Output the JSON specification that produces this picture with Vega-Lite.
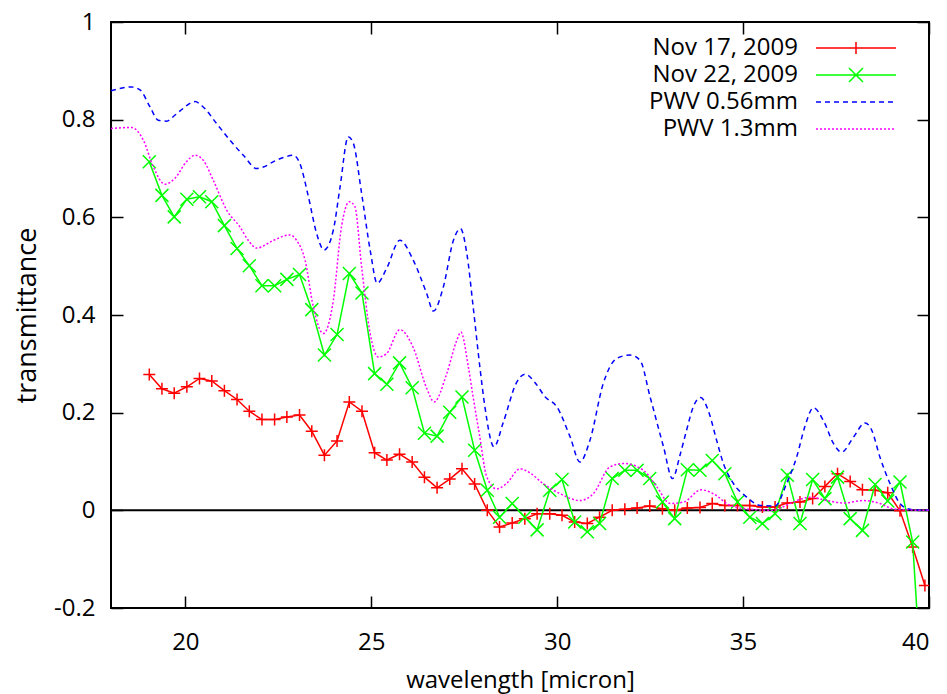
{
  "$schema": "https://vega.github.io/schema/vega-lite/v6.json",
  "width": 818,
  "height": 586,
  "autosize": "none",
  "padding": {"left": 111, "top": 22, "right": 18, "bottom": 86},
  "background": "white",
  "config": {
    "view": {"stroke": "black", "strokeWidth": 2},
    "font": "Open Sans",
    "axis": {
      "grid": false,
      "domain": false,
      "tickColor": "black",
      "tickWidth": 1.5,
      "tickSize": -12,
      "labelFont": "Open Sans",
      "labelFontSize": 24,
      "labelColor": "black",
      "titleFont": "Open Sans",
      "titleFontSize": 24,
      "titleFontWeight": "normal",
      "titleColor": "black"
    }
  },
  "datasets": {
    "meas": [
      {"series": "Nov 17, 2009", "x": 19.03, "y": 0.278},
      {"series": "Nov 17, 2009", "x": 19.37, "y": 0.249},
      {"series": "Nov 17, 2009", "x": 19.70, "y": 0.240},
      {"series": "Nov 17, 2009", "x": 20.04, "y": 0.253},
      {"series": "Nov 17, 2009", "x": 20.38, "y": 0.270},
      {"series": "Nov 17, 2009", "x": 20.71, "y": 0.265},
      {"series": "Nov 17, 2009", "x": 21.05, "y": 0.245},
      {"series": "Nov 17, 2009", "x": 21.39, "y": 0.227},
      {"series": "Nov 17, 2009", "x": 21.72, "y": 0.203},
      {"series": "Nov 17, 2009", "x": 22.06, "y": 0.186},
      {"series": "Nov 17, 2009", "x": 22.40, "y": 0.186},
      {"series": "Nov 17, 2009", "x": 22.73, "y": 0.191},
      {"series": "Nov 17, 2009", "x": 23.07, "y": 0.195},
      {"series": "Nov 17, 2009", "x": 23.40, "y": 0.162},
      {"series": "Nov 17, 2009", "x": 23.74, "y": 0.113},
      {"series": "Nov 17, 2009", "x": 24.08, "y": 0.142},
      {"series": "Nov 17, 2009", "x": 24.41, "y": 0.222},
      {"series": "Nov 17, 2009", "x": 24.75, "y": 0.203},
      {"series": "Nov 17, 2009", "x": 25.09, "y": 0.118},
      {"series": "Nov 17, 2009", "x": 25.42, "y": 0.103},
      {"series": "Nov 17, 2009", "x": 25.76, "y": 0.115},
      {"series": "Nov 17, 2009", "x": 26.10, "y": 0.099},
      {"series": "Nov 17, 2009", "x": 26.43, "y": 0.068},
      {"series": "Nov 17, 2009", "x": 26.77, "y": 0.046},
      {"series": "Nov 17, 2009", "x": 27.11, "y": 0.064},
      {"series": "Nov 17, 2009", "x": 27.44, "y": 0.085},
      {"series": "Nov 17, 2009", "x": 27.78, "y": 0.054},
      {"series": "Nov 17, 2009", "x": 28.12, "y": 0.000},
      {"series": "Nov 17, 2009", "x": 28.45, "y": -0.034},
      {"series": "Nov 17, 2009", "x": 28.79, "y": -0.026},
      {"series": "Nov 17, 2009", "x": 29.13, "y": -0.017},
      {"series": "Nov 17, 2009", "x": 29.46, "y": -0.007},
      {"series": "Nov 17, 2009", "x": 29.80, "y": -0.007},
      {"series": "Nov 17, 2009", "x": 30.13, "y": -0.010},
      {"series": "Nov 17, 2009", "x": 30.47, "y": -0.024},
      {"series": "Nov 17, 2009", "x": 30.81, "y": -0.027},
      {"series": "Nov 17, 2009", "x": 31.14, "y": -0.014},
      {"series": "Nov 17, 2009", "x": 31.48, "y": 0.000},
      {"series": "Nov 17, 2009", "x": 31.82, "y": 0.002},
      {"series": "Nov 17, 2009", "x": 32.15, "y": 0.005},
      {"series": "Nov 17, 2009", "x": 32.49, "y": 0.009},
      {"series": "Nov 17, 2009", "x": 32.83, "y": 0.003},
      {"series": "Nov 17, 2009", "x": 33.16, "y": 0.000},
      {"series": "Nov 17, 2009", "x": 33.50, "y": 0.005},
      {"series": "Nov 17, 2009", "x": 33.84, "y": 0.006},
      {"series": "Nov 17, 2009", "x": 34.17, "y": 0.014},
      {"series": "Nov 17, 2009", "x": 34.51, "y": 0.010},
      {"series": "Nov 17, 2009", "x": 34.85, "y": 0.010},
      {"series": "Nov 17, 2009", "x": 35.18, "y": 0.010},
      {"series": "Nov 17, 2009", "x": 35.52, "y": 0.007},
      {"series": "Nov 17, 2009", "x": 35.86, "y": 0.007},
      {"series": "Nov 17, 2009", "x": 36.19, "y": 0.015},
      {"series": "Nov 17, 2009", "x": 36.53, "y": 0.017},
      {"series": "Nov 17, 2009", "x": 36.87, "y": 0.024},
      {"series": "Nov 17, 2009", "x": 37.20, "y": 0.049},
      {"series": "Nov 17, 2009", "x": 37.54, "y": 0.075},
      {"series": "Nov 17, 2009", "x": 37.88, "y": 0.059},
      {"series": "Nov 17, 2009", "x": 38.21, "y": 0.042},
      {"series": "Nov 17, 2009", "x": 38.55, "y": 0.041},
      {"series": "Nov 17, 2009", "x": 38.89, "y": 0.036},
      {"series": "Nov 17, 2009", "x": 39.22, "y": -0.001},
      {"series": "Nov 17, 2009", "x": 39.56, "y": -0.075},
      {"series": "Nov 17, 2009", "x": 39.89, "y": -0.154},
      {"series": "Nov 22, 2009", "x": 19.03, "y": 0.714},
      {"series": "Nov 22, 2009", "x": 19.37, "y": 0.645},
      {"series": "Nov 22, 2009", "x": 19.70, "y": 0.601},
      {"series": "Nov 22, 2009", "x": 20.04, "y": 0.637},
      {"series": "Nov 22, 2009", "x": 20.38, "y": 0.642},
      {"series": "Nov 22, 2009", "x": 20.71, "y": 0.632},
      {"series": "Nov 22, 2009", "x": 21.05, "y": 0.583},
      {"series": "Nov 22, 2009", "x": 21.39, "y": 0.536},
      {"series": "Nov 22, 2009", "x": 21.72, "y": 0.501},
      {"series": "Nov 22, 2009", "x": 22.06, "y": 0.460},
      {"series": "Nov 22, 2009", "x": 22.40, "y": 0.460},
      {"series": "Nov 22, 2009", "x": 22.73, "y": 0.473},
      {"series": "Nov 22, 2009", "x": 23.07, "y": 0.483},
      {"series": "Nov 22, 2009", "x": 23.40, "y": 0.411},
      {"series": "Nov 22, 2009", "x": 23.74, "y": 0.318},
      {"series": "Nov 22, 2009", "x": 24.08, "y": 0.360},
      {"series": "Nov 22, 2009", "x": 24.41, "y": 0.485},
      {"series": "Nov 22, 2009", "x": 24.75, "y": 0.445},
      {"series": "Nov 22, 2009", "x": 25.09, "y": 0.280},
      {"series": "Nov 22, 2009", "x": 25.42, "y": 0.258},
      {"series": "Nov 22, 2009", "x": 25.76, "y": 0.302},
      {"series": "Nov 22, 2009", "x": 26.10, "y": 0.251},
      {"series": "Nov 22, 2009", "x": 26.43, "y": 0.158},
      {"series": "Nov 22, 2009", "x": 26.77, "y": 0.152},
      {"series": "Nov 22, 2009", "x": 27.11, "y": 0.201},
      {"series": "Nov 22, 2009", "x": 27.44, "y": 0.232},
      {"series": "Nov 22, 2009", "x": 27.78, "y": 0.123},
      {"series": "Nov 22, 2009", "x": 28.12, "y": 0.041},
      {"series": "Nov 22, 2009", "x": 28.45, "y": -0.014},
      {"series": "Nov 22, 2009", "x": 28.79, "y": 0.014},
      {"series": "Nov 22, 2009", "x": 29.13, "y": -0.014},
      {"series": "Nov 22, 2009", "x": 29.46, "y": -0.040},
      {"series": "Nov 22, 2009", "x": 29.80, "y": 0.041},
      {"series": "Nov 22, 2009", "x": 30.13, "y": 0.063},
      {"series": "Nov 22, 2009", "x": 30.47, "y": -0.024},
      {"series": "Nov 22, 2009", "x": 30.81, "y": -0.044},
      {"series": "Nov 22, 2009", "x": 31.14, "y": -0.027},
      {"series": "Nov 22, 2009", "x": 31.48, "y": 0.065},
      {"series": "Nov 22, 2009", "x": 31.82, "y": 0.082},
      {"series": "Nov 22, 2009", "x": 32.15, "y": 0.082},
      {"series": "Nov 22, 2009", "x": 32.49, "y": 0.065},
      {"series": "Nov 22, 2009", "x": 32.83, "y": 0.017},
      {"series": "Nov 22, 2009", "x": 33.16, "y": -0.017},
      {"series": "Nov 22, 2009", "x": 33.50, "y": 0.083},
      {"series": "Nov 22, 2009", "x": 33.84, "y": 0.082},
      {"series": "Nov 22, 2009", "x": 34.17, "y": 0.102},
      {"series": "Nov 22, 2009", "x": 34.51, "y": 0.075},
      {"series": "Nov 22, 2009", "x": 34.85, "y": 0.017},
      {"series": "Nov 22, 2009", "x": 35.18, "y": -0.014},
      {"series": "Nov 22, 2009", "x": 35.52, "y": -0.027},
      {"series": "Nov 22, 2009", "x": 35.86, "y": -0.007},
      {"series": "Nov 22, 2009", "x": 36.19, "y": 0.072},
      {"series": "Nov 22, 2009", "x": 36.53, "y": -0.027},
      {"series": "Nov 22, 2009", "x": 36.87, "y": 0.063},
      {"series": "Nov 22, 2009", "x": 37.20, "y": 0.024},
      {"series": "Nov 22, 2009", "x": 37.54, "y": 0.068},
      {"series": "Nov 22, 2009", "x": 37.88, "y": -0.017},
      {"series": "Nov 22, 2009", "x": 38.21, "y": -0.041},
      {"series": "Nov 22, 2009", "x": 38.55, "y": 0.053},
      {"series": "Nov 22, 2009", "x": 38.89, "y": 0.019},
      {"series": "Nov 22, 2009", "x": 39.22, "y": 0.058},
      {"series": "Nov 22, 2009", "x": 39.56, "y": -0.065},
      {"series": "Nov 22, 2009", "x": 39.89, "y": -0.47}
    ],
    "model": [
      {"series": "PWV 0.56mm", "x": 18.0, "y": 0.859},
      {"series": "PWV 0.56mm", "x": 18.3, "y": 0.865},
      {"series": "PWV 0.56mm", "x": 18.55, "y": 0.867},
      {"series": "PWV 0.56mm", "x": 18.78, "y": 0.861},
      {"series": "PWV 0.56mm", "x": 19.05, "y": 0.826},
      {"series": "PWV 0.56mm", "x": 19.27, "y": 0.799},
      {"series": "PWV 0.56mm", "x": 19.5, "y": 0.797},
      {"series": "PWV 0.56mm", "x": 19.7, "y": 0.808},
      {"series": "PWV 0.56mm", "x": 19.86, "y": 0.818},
      {"series": "PWV 0.56mm", "x": 20.26, "y": 0.837},
      {"series": "PWV 0.56mm", "x": 20.48, "y": 0.826},
      {"series": "PWV 0.56mm", "x": 20.84, "y": 0.792},
      {"series": "PWV 0.56mm", "x": 21.2, "y": 0.758},
      {"series": "PWV 0.56mm", "x": 21.56, "y": 0.727},
      {"series": "PWV 0.56mm", "x": 21.92, "y": 0.700},
      {"series": "PWV 0.56mm", "x": 22.1, "y": 0.703},
      {"series": "PWV 0.56mm", "x": 22.37, "y": 0.714},
      {"series": "PWV 0.56mm", "x": 22.7, "y": 0.724},
      {"series": "PWV 0.56mm", "x": 22.9, "y": 0.727},
      {"series": "PWV 0.56mm", "x": 23.08, "y": 0.710},
      {"series": "PWV 0.56mm", "x": 23.31, "y": 0.642},
      {"series": "PWV 0.56mm", "x": 23.53, "y": 0.567},
      {"series": "PWV 0.56mm", "x": 23.73, "y": 0.533},
      {"series": "PWV 0.56mm", "x": 23.98, "y": 0.574},
      {"series": "PWV 0.56mm", "x": 24.16, "y": 0.662},
      {"series": "PWV 0.56mm", "x": 24.38, "y": 0.765},
      {"series": "PWV 0.56mm", "x": 24.52, "y": 0.751},
      {"series": "PWV 0.56mm", "x": 24.74, "y": 0.649},
      {"series": "PWV 0.56mm", "x": 24.97, "y": 0.533},
      {"series": "PWV 0.56mm", "x": 25.16, "y": 0.465},
      {"series": "PWV 0.56mm", "x": 25.41, "y": 0.495},
      {"series": "PWV 0.56mm", "x": 25.77, "y": 0.553},
      {"series": "PWV 0.56mm", "x": 26.13, "y": 0.512},
      {"series": "PWV 0.56mm", "x": 26.49, "y": 0.444},
      {"series": "PWV 0.56mm", "x": 26.67, "y": 0.408},
      {"series": "PWV 0.56mm", "x": 26.94, "y": 0.458},
      {"series": "PWV 0.56mm", "x": 27.21, "y": 0.553},
      {"series": "PWV 0.56mm", "x": 27.40, "y": 0.577},
      {"series": "PWV 0.56mm", "x": 27.57, "y": 0.526},
      {"series": "PWV 0.56mm", "x": 27.74, "y": 0.417},
      {"series": "PWV 0.56mm", "x": 27.92, "y": 0.294},
      {"series": "PWV 0.56mm", "x": 28.06, "y": 0.210},
      {"series": "PWV 0.56mm", "x": 28.3, "y": 0.130},
      {"series": "PWV 0.56mm", "x": 28.55, "y": 0.180},
      {"series": "PWV 0.56mm", "x": 28.91, "y": 0.262},
      {"series": "PWV 0.56mm", "x": 29.14, "y": 0.279},
      {"series": "PWV 0.56mm", "x": 29.4, "y": 0.262},
      {"series": "PWV 0.56mm", "x": 29.68, "y": 0.232},
      {"series": "PWV 0.56mm", "x": 29.99, "y": 0.212},
      {"series": "PWV 0.56mm", "x": 30.35, "y": 0.150},
      {"series": "PWV 0.56mm", "x": 30.61, "y": 0.099},
      {"series": "PWV 0.56mm", "x": 30.88, "y": 0.143},
      {"series": "PWV 0.56mm", "x": 31.24, "y": 0.260},
      {"series": "PWV 0.56mm", "x": 31.60, "y": 0.311},
      {"series": "PWV 0.56mm", "x": 31.96, "y": 0.318},
      {"series": "PWV 0.56mm", "x": 32.23, "y": 0.307},
      {"series": "PWV 0.56mm", "x": 32.5, "y": 0.232},
      {"series": "PWV 0.56mm", "x": 32.86, "y": 0.130},
      {"series": "PWV 0.56mm", "x": 33.1, "y": 0.065},
      {"series": "PWV 0.56mm", "x": 33.31, "y": 0.115},
      {"series": "PWV 0.56mm", "x": 33.48, "y": 0.164},
      {"series": "PWV 0.56mm", "x": 33.66, "y": 0.212},
      {"series": "PWV 0.56mm", "x": 33.86, "y": 0.231},
      {"series": "PWV 0.56mm", "x": 34.06, "y": 0.205},
      {"series": "PWV 0.56mm", "x": 34.29, "y": 0.143},
      {"series": "PWV 0.56mm", "x": 34.47, "y": 0.096},
      {"series": "PWV 0.56mm", "x": 34.74, "y": 0.055},
      {"series": "PWV 0.56mm", "x": 35.1, "y": 0.027},
      {"series": "PWV 0.56mm", "x": 35.46, "y": 0.010},
      {"series": "PWV 0.56mm", "x": 35.86, "y": 0.009},
      {"series": "PWV 0.56mm", "x": 36.17, "y": 0.055},
      {"series": "PWV 0.56mm", "x": 36.44, "y": 0.109},
      {"series": "PWV 0.56mm", "x": 36.66, "y": 0.171},
      {"series": "PWV 0.56mm", "x": 36.89, "y": 0.210},
      {"series": "PWV 0.56mm", "x": 37.16, "y": 0.184},
      {"series": "PWV 0.56mm", "x": 37.43, "y": 0.137},
      {"series": "PWV 0.56mm", "x": 37.65, "y": 0.119},
      {"series": "PWV 0.56mm", "x": 37.97, "y": 0.150},
      {"series": "PWV 0.56mm", "x": 38.28, "y": 0.179},
      {"series": "PWV 0.56mm", "x": 38.46, "y": 0.164},
      {"series": "PWV 0.56mm", "x": 38.68, "y": 0.109},
      {"series": "PWV 0.56mm", "x": 38.95, "y": 0.055},
      {"series": "PWV 0.56mm", "x": 39.22, "y": 0.014},
      {"series": "PWV 0.56mm", "x": 39.49, "y": 0.002},
      {"series": "PWV 0.56mm", "x": 39.93, "y": 0.0},
      {"series": "PWV 0.56mm", "x": 40.0, "y": 0.0},
      {"series": "PWV 1.3mm", "x": 18.0, "y": 0.782},
      {"series": "PWV 1.3mm", "x": 18.55, "y": 0.784},
      {"series": "PWV 1.3mm", "x": 18.87, "y": 0.758},
      {"series": "PWV 1.3mm", "x": 19.14, "y": 0.703},
      {"series": "PWV 1.3mm", "x": 19.45, "y": 0.668},
      {"series": "PWV 1.3mm", "x": 19.72, "y": 0.680},
      {"series": "PWV 1.3mm", "x": 20.03, "y": 0.714},
      {"series": "PWV 1.3mm", "x": 20.26, "y": 0.727},
      {"series": "PWV 1.3mm", "x": 20.48, "y": 0.717},
      {"series": "PWV 1.3mm", "x": 20.75, "y": 0.676},
      {"series": "PWV 1.3mm", "x": 21.11, "y": 0.615},
      {"series": "PWV 1.3mm", "x": 21.47, "y": 0.580},
      {"series": "PWV 1.3mm", "x": 21.69, "y": 0.553},
      {"series": "PWV 1.3mm", "x": 21.92, "y": 0.537},
      {"series": "PWV 1.3mm", "x": 22.37, "y": 0.553},
      {"series": "PWV 1.3mm", "x": 22.81, "y": 0.564},
      {"series": "PWV 1.3mm", "x": 22.99, "y": 0.553},
      {"series": "PWV 1.3mm", "x": 23.22, "y": 0.512},
      {"series": "PWV 1.3mm", "x": 23.44, "y": 0.417},
      {"series": "PWV 1.3mm", "x": 23.71, "y": 0.362},
      {"series": "PWV 1.3mm", "x": 23.98, "y": 0.430},
      {"series": "PWV 1.3mm", "x": 24.2, "y": 0.581},
      {"series": "PWV 1.3mm", "x": 24.41, "y": 0.632},
      {"series": "PWV 1.3mm", "x": 24.56, "y": 0.622},
      {"series": "PWV 1.3mm", "x": 24.74, "y": 0.499},
      {"series": "PWV 1.3mm", "x": 24.97, "y": 0.362},
      {"series": "PWV 1.3mm", "x": 25.19, "y": 0.314},
      {"series": "PWV 1.3mm", "x": 25.41, "y": 0.321},
      {"series": "PWV 1.3mm", "x": 25.77, "y": 0.370},
      {"series": "PWV 1.3mm", "x": 26.13, "y": 0.333},
      {"series": "PWV 1.3mm", "x": 26.49, "y": 0.250},
      {"series": "PWV 1.3mm", "x": 26.69, "y": 0.222},
      {"series": "PWV 1.3mm", "x": 27.03, "y": 0.280},
      {"series": "PWV 1.3mm", "x": 27.3, "y": 0.348},
      {"series": "PWV 1.3mm", "x": 27.41, "y": 0.365},
      {"series": "PWV 1.3mm", "x": 27.61, "y": 0.294},
      {"series": "PWV 1.3mm", "x": 27.74, "y": 0.232},
      {"series": "PWV 1.3mm", "x": 27.92, "y": 0.150},
      {"series": "PWV 1.3mm", "x": 28.1, "y": 0.070},
      {"series": "PWV 1.3mm", "x": 28.37, "y": 0.044},
      {"series": "PWV 1.3mm", "x": 28.64, "y": 0.055},
      {"series": "PWV 1.3mm", "x": 29.0, "y": 0.085},
      {"series": "PWV 1.3mm", "x": 29.3, "y": 0.075},
      {"series": "PWV 1.3mm", "x": 29.6, "y": 0.056},
      {"series": "PWV 1.3mm", "x": 30.08, "y": 0.034},
      {"series": "PWV 1.3mm", "x": 30.61, "y": 0.020},
      {"series": "PWV 1.3mm", "x": 30.97, "y": 0.034},
      {"series": "PWV 1.3mm", "x": 31.42, "y": 0.089},
      {"series": "PWV 1.3mm", "x": 31.78, "y": 0.096},
      {"series": "PWV 1.3mm", "x": 32.32, "y": 0.082},
      {"series": "PWV 1.3mm", "x": 32.68, "y": 0.048},
      {"series": "PWV 1.3mm", "x": 33.04, "y": 0.014},
      {"series": "PWV 1.3mm", "x": 33.4, "y": 0.017},
      {"series": "PWV 1.3mm", "x": 33.87, "y": 0.042},
      {"series": "PWV 1.3mm", "x": 34.2, "y": 0.034},
      {"series": "PWV 1.3mm", "x": 34.65, "y": 0.010},
      {"series": "PWV 1.3mm", "x": 35.1, "y": 0.003},
      {"series": "PWV 1.3mm", "x": 35.81, "y": 0.000},
      {"series": "PWV 1.3mm", "x": 36.26, "y": 0.014},
      {"series": "PWV 1.3mm", "x": 36.8, "y": 0.027},
      {"series": "PWV 1.3mm", "x": 37.25, "y": 0.020},
      {"series": "PWV 1.3mm", "x": 37.7, "y": 0.015},
      {"series": "PWV 1.3mm", "x": 38.24, "y": 0.020},
      {"series": "PWV 1.3mm", "x": 38.68, "y": 0.014},
      {"series": "PWV 1.3mm", "x": 39.04, "y": 0.003},
      {"series": "PWV 1.3mm", "x": 39.93, "y": 0.000},
      {"series": "PWV 1.3mm", "x": 40.0, "y": 0.000}
    ],
    "zero": [{"y": 0}]
  },
  "layer": [
    {
      "data": {"name": "zero"},
      "mark": {"type": "rule", "color": "black", "strokeWidth": 2},
      "encoding": {
        "y": {"field": "y", "type": "quantitative", "scale": {"domain": [-0.2, 1], "nice": false, "zero": false}, "axis": null}
      }
    },
    {
      "data": {"name": "meas"},
      "transform": [{"filter": "datum.series === 'Nov 17, 2009'"}],
      "mark": {"type": "line", "strokeWidth": 1.5, "clip": true},
      "encoding": {
        "x": {"field": "x", "type": "quantitative", "scale": {"domain": [18, 40], "nice": false, "zero": false},
              "axis": {"orient": "bottom", "values": [20, 25, 30, 35, 40], "title": "wavelength [micron]", "labelPadding": 34, "titlePadding": 14}},
        "y": {"field": "y", "type": "quantitative", "scale": {"domain": [-0.2, 1], "nice": false, "zero": false},
              "axis": {"orient": "left", "values": [-0.2, 0, 0.2, 0.4, 0.6, 0.8, 1], "title": "transmittance", "titleFontSize": 27, "labelPadding": 28, "titlePadding": 12,
                       "labelExpr": "replace(format(datum.value, '~g'), '\u2212', '-')"}},
        "color": {"field": "series", "type": "nominal",
                  "scale": {"domain": ["Nov 17, 2009", "Nov 22, 2009", "PWV 0.56mm", "PWV 1.3mm"], "range": ["#ff0000", "#00ff00", "#0000ff", "#ff00ff"]},
                  "legend": {
                    "orient": "none", "legendX": 733, "legendY": 14, "title": null, "direction": "vertical",
                    "labelFont": "Open Sans", "labelFontSize": 24, "labelColor": "black",
                    "labelAlign": "right", "labelOffset": -70,
                    "symbolType": "M-4,0H4", "symbolSize": 400, "symbolStrokeWidth": 1.5,
                    "rowPadding": 3, "padding": 0,
                    "encode": {"symbols": {"update": {
                      "shape": {"signal": "datum.value === 'Nov 17, 2009' ? 'M-4,0H4M0,-0.6V0.6' : datum.value === 'Nov 22, 2009' ? 'M-4,0H4M-0.7,-0.7L0.7,0.7M-0.7,0.7L0.7,-0.7' : 'M-4,0H4'"},
                      "strokeDash": {"signal": "datum.value === 'PWV 0.56mm' ? [5,4] : datum.value === 'PWV 1.3mm' ? [2,2] : [1,0]"},
                      "fill": {"value": "transparent"},
                      "opacity": {"value": 1}
                    }}}
                  }}
      }
    },
    {
      "data": {"name": "meas"},
      "transform": [{"filter": "datum.series === 'Nov 17, 2009'"}],
      "mark": {"type": "point", "shape": "M-1,0H1M0,-1V1", "size": 144, "filled": false, "strokeWidth": 1.5, "opacity": 1, "clip": true},
      "encoding": {
        "x": {"field": "x", "type": "quantitative", "scale": {"domain": [18, 40], "nice": false, "zero": false}, "axis": null},
        "y": {"field": "y", "type": "quantitative", "scale": {"domain": [-0.2, 1], "nice": false, "zero": false}, "axis": null},
        "color": {"field": "series", "type": "nominal"}
      }
    },
    {
      "data": {"name": "meas"},
      "transform": [{"filter": "datum.series === 'Nov 22, 2009'"}],
      "mark": {"type": "line", "strokeWidth": 1.5, "clip": true},
      "encoding": {
        "x": {"field": "x", "type": "quantitative", "scale": {"domain": [18, 40], "nice": false, "zero": false}, "axis": null},
        "y": {"field": "y", "type": "quantitative", "scale": {"domain": [-0.2, 1], "nice": false, "zero": false}, "axis": null},
        "color": {"field": "series", "type": "nominal"}
      }
    },
    {
      "data": {"name": "meas"},
      "transform": [{"filter": "datum.series === 'Nov 22, 2009'"}],
      "mark": {"type": "point", "shape": "M-1,-1L1,1M-1,1L1,-1", "size": 169, "filled": false, "strokeWidth": 1.5, "opacity": 1, "clip": true},
      "encoding": {
        "x": {"field": "x", "type": "quantitative", "scale": {"domain": [18, 40], "nice": false, "zero": false}, "axis": null},
        "y": {"field": "y", "type": "quantitative", "scale": {"domain": [-0.2, 1], "nice": false, "zero": false}, "axis": null},
        "color": {"field": "series", "type": "nominal"}
      }
    },
    {
      "data": {"name": "model"},
      "transform": [{"filter": "datum.series === 'PWV 0.56mm'"}],
      "mark": {"type": "line", "strokeWidth": 1.5, "strokeDash": [5, 4], "interpolate": "monotone", "clip": true},
      "encoding": {
        "x": {"field": "x", "type": "quantitative", "scale": {"domain": [18, 40], "nice": false, "zero": false},
              "axis": {"orient": "top", "values": [20, 25, 30, 35, 40], "labels": false, "title": null}},
        "y": {"field": "y", "type": "quantitative", "scale": {"domain": [-0.2, 1], "nice": false, "zero": false},
              "axis": {"orient": "right", "values": [-0.2, 0, 0.2, 0.4, 0.6, 0.8, 1], "labels": false, "title": null}},
        "color": {"field": "series", "type": "nominal"}
      }
    },
    {
      "data": {"name": "model"},
      "transform": [{"filter": "datum.series === 'PWV 1.3mm'"}],
      "mark": {"type": "line", "strokeWidth": 1.5, "strokeDash": [2, 2], "interpolate": "monotone", "clip": true},
      "encoding": {
        "x": {"field": "x", "type": "quantitative", "scale": {"domain": [18, 40], "nice": false, "zero": false}, "axis": null},
        "y": {"field": "y", "type": "quantitative", "scale": {"domain": [-0.2, 1], "nice": false, "zero": false}, "axis": null},
        "color": {"field": "series", "type": "nominal"}
      }
    }
  ],
  "resolve": {"axis": {"x": "independent", "y": "independent"}}
}
